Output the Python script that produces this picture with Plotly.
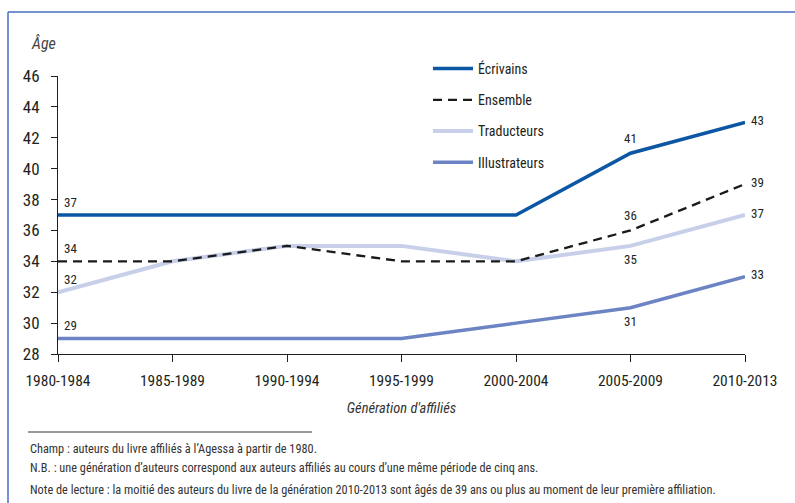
import plotly.graph_objects as go

generations = ["1980-1984", "1985-1989", "1990-1994", "1995-1999", "2000-2004", "2005-2009", "2010-2013"]
ecrivains = [37, 37, 37, 37, 37, 41, 43]
ensemble = [34, 34, 35, 34, 34, 36, 39]
traducteurs = [32, 34, 35, 35, 34, 35, 37]
illustrateurs = [29, 29, 29, 29, 30, 31, 33]

# which points carry a value label, and where
label_idx = [0, 5, 6]
pos_ecrivains = ["topright", "top", "right"]
pos_ensemble = ["topright", "top", "right"]
pos_traducteurs = ["topright", "bottom", "right"]
pos_illustrateurs = ["topright", "bottom", "right"]

W, H = 795, 503
L, R, T, B = 58, 745, 76, 354
FONT = "Liberation Sans Narrow, Arial Narrow, Roboto Condensed, Roboto, sans-serif"
TXT = "#231f20"

SHIFTS = {"topright": (12, 13), "top": (0, 15), "bottom": (0, -14), "right": (12, 2)}


def px(x):
    return (x - L) / (R - L)


def py(y):
    return (B - y) / (B - T)


fig = go.Figure()
series = [
    ("Écrivains", ecrivains, pos_ecrivains, dict(color="#0b57a4", width=3.5)),
    ("Ensemble", ensemble, pos_ensemble, dict(color="#1a1a1a", width=2.3, dash="9px,6px")),
    ("Traducteurs", traducteurs, pos_traducteurs, dict(color="#c7cfe9", width=4)),
    ("Illustrateurs", illustrateurs, pos_illustrateurs, dict(color="#6c84c3", width=3.5)),
]
annotations = []
order = [2, 3, 0, 1]
for j in order:
    name, vals, positions, line = series[j]
    fig.add_trace(go.Scatter(
        x=generations, y=vals, name=name, mode="lines",
        line=line, legendgroup=name, legendrank=j + 1, cliponaxis=False,
        hoverinfo="skip",
    ))
    for k, i in enumerate(label_idx):
        dx, dy = SHIFTS[positions[k]]
        annotations.append(dict(
            x=generations[i], y=vals[i], xref="x", yref="y", text=str(vals[i]),
            showarrow=False, xanchor="center", yanchor="middle", xshift=dx, yshift=dy,
            font=dict(family=FONT, size=13, color=TXT),
        ))

annotations += [
    dict(text="<i>Âge</i>", xref="paper", yref="paper", x=px(29), y=py(43),
         xanchor="left", yanchor="middle", showarrow=False,
         font=dict(family=FONT, size=16, color="#444")),
    dict(text="Champ : auteurs du livre affiliés à l’Agessa à partir de 1980.",
         xref="paper", yref="paper", x=px(28), y=py(449), xanchor="left", yanchor="middle",
         showarrow=False, font=dict(family=FONT, size=12.3, color="#333")),
    dict(text="N.B. : une génération d’auteurs correspond aux auteurs affiliés au cours d’une même période de cinq ans.",
         xref="paper", yref="paper", x=px(28), y=py(468), xanchor="left", yanchor="middle",
         showarrow=False, font=dict(family=FONT, size=12.3, color="#333")),
    dict(text="Note de lecture : la moitié des auteurs du livre de la génération 2010-2013 sont âgés de 39 ans ou plus au moment de leur première affiliation.",
         xref="paper", yref="paper", x=px(28), y=py(490), xanchor="left", yanchor="middle",
         showarrow=False, font=dict(family=FONT, size=12.3, color="#333")),
]

fig.update_layout(
    width=W, height=H,
    margin=dict(l=L, r=W - R, t=T, b=H - B),
    paper_bgcolor="white", plot_bgcolor="white",
    font=dict(family=FONT, color=TXT),
    showlegend=True,
    legend=dict(
        x=px(428), y=py(53), xanchor="left", yanchor="top",
        font=dict(family=FONT, size=14, color=TXT),
        tracegroupgap=10, bgcolor="rgba(0,0,0,0)",
        itemwidth=40,
    ),
    xaxis=dict(
        type="category", range=[0, 6], showgrid=False, zeroline=False,
        showline=True, linecolor=TXT, linewidth=1,
        ticks="outside", ticklen=7, tickcolor=TXT, tickwidth=1,
        ticklabelstandoff=5,
        tickfont=dict(family=FONT, size=15.5, color=TXT),
        title=dict(text="<i>Génération d'affiliés</i>", standoff=14,
                   font=dict(family=FONT, size=14.5, color="#333")),
    ),
    yaxis=dict(
        range=[28, 46], dtick=2, showgrid=False, zeroline=False,
        showline=True, linecolor=TXT, linewidth=1,
        ticks="outside", ticklen=6, tickcolor=TXT, tickwidth=1,
        ticklabelstandoff=8,
        tickfont=dict(family=FONT, size=17, color=TXT),
    ),
    annotations=annotations,
    shapes=[
        dict(type="line", xref="paper", yref="paper", x0=px(28), x1=px(312), y0=py(432), y1=py(432),
             line=dict(color="#333", width=1)),
        dict(type="line", xref="paper", yref="paper", x0=px(8), x1=px(800), y0=py(12), y1=py(12),
             line=dict(color="#4a6cbf", width=1.5)),
        dict(type="line", xref="paper", yref="paper", x0=px(8), x1=px(8), y0=py(12), y1=py(510),
             line=dict(color="#4a6cbf", width=1.5)),
    ],
)

fig.write_html("out.html")
